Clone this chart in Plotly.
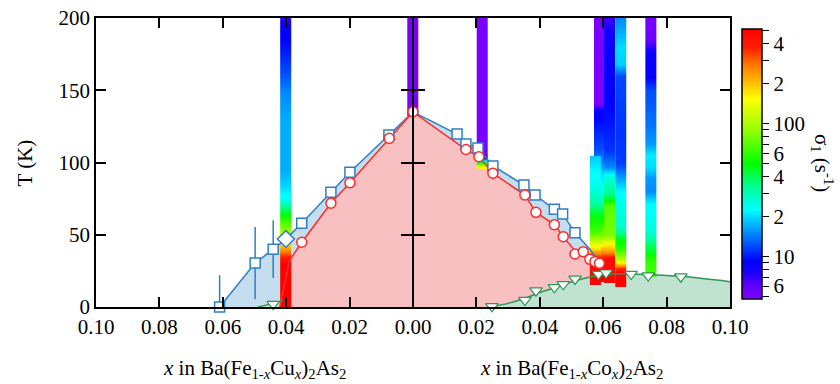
import numpy as np
import plotly.graph_objects as go

# ---------------- data (x < 0 : Cu side, x > 0 : Co side) ----------------
# structural transition T_S (blue squares)
cu_ts_x = [-0.0610, -0.0498, -0.0441, -0.0351, -0.0259, -0.0199, -0.0076]
cu_ts_T = [0.0, 30.4, 40.0, 57.9, 79.4, 93.2, 119.0]
cu_ts_err_plus = [22, 25, 20, 0, 0, 0, 0]
cu_ts_err_minus = [0, 25, 20, 0, 0, 0, 0]
co_ts_x = [0.0139, 0.0167, 0.0205, 0.0252, 0.0350, 0.0385, 0.0446, 0.0472, 0.0511]
co_ts_T = [119.7, 112.8, 110.0, 97.6, 84.4, 77.5, 67.6, 64.4, 51.4]
nmr_x = [-0.0401]
nmr_T = [47.0]
# T_S phase boundary
ts_line_x = [-0.0610, -0.0498, -0.0441, -0.0401, -0.0351, -0.0259, -0.0199, -0.0076, 0.0,
             0.0139, 0.0167, 0.0205, 0.0252, 0.0350, 0.0385, 0.0446, 0.0472, 0.0511, 0.0558, 0.0600]
ts_line_T = [0.0, 30.4, 40.0, 47.0, 57.9, 79.4, 93.2, 119.0, 135.0,
             119.7, 112.8, 110.0, 97.6, 84.4, 77.5, 67.6, 64.4, 51.4, 40.0, 28.0]

# Neel temperature T_N (red circles)
tn_x = [-0.0351, -0.0259, -0.0199, -0.0075, 0.0,
        0.0167, 0.0208, 0.0252, 0.0353, 0.0388, 0.0446, 0.0474, 0.0511, 0.0537, 0.0558, 0.0574, 0.0588]
tn_T = [44.8, 71.8, 86.0, 116.7, 135.2,
        109.0, 104.0, 92.6, 77.5, 65.5, 57.0, 48.7, 36.7, 38.3, 33.0, 31.4, 30.2]
tn_line_x = [-0.0420, -0.0390, -0.0351, -0.0259, -0.0199, -0.0075, 0.0,
             0.0167, 0.0208, 0.0252, 0.0353, 0.0388, 0.0446, 0.0474, 0.0511, 0.0558, 0.0588, 0.0600]
tn_line_T = [0.0, 32.0, 44.8, 71.8, 86.0, 116.7, 135.0,
             109.0, 104.0, 92.6, 77.5, 65.5, 57.0, 48.7, 39.0, 33.0, 30.2, 27.0]

# superconducting T_c (green triangles)
cu_tc_x = [-0.0441]
cu_tc_T = [2.0]
cu_tc_line_x = [-0.0490, -0.0441, -0.0410]
cu_tc_line_T = [0.0, 2.5, 4.5]
co_tc_x = [0.0249, 0.0353, 0.0388, 0.0446, 0.0474, 0.0511, 0.0585, 0.0609, 0.0688, 0.0742, 0.0845]
co_tc_T = [0.5, 4.8, 11.3, 13.6, 15.7, 19.4, 22.8, 23.7, 22.8, 21.7, 21.0]
co_tc_line_x = [0.0245, 0.0300, 0.0353, 0.0400, 0.0446, 0.0511, 0.0585, 0.0650, 0.0750, 0.0845, 0.1000]
co_tc_line_T = [0.0, 2.5, 6.0, 10.0, 13.3, 18.0, 22.0, 23.0, 22.3, 21.2, 17.5]

# 1/T1 strips: composition, temperatures (ascending) and relaxation rates (s^-1)
strips = [
    dict(x=-0.0401,
         T=[0, 30, 33, 38, 44, 49, 55, 62, 69, 75, 80, 86, 95, 130, 148, 160, 178, 195, 203],
         r=[520, 520, 430, 280, 170, 125, 80, 55, 35, 24, 21, 19, 17, 17, 15, 12.5, 10, 8.5, 6.5]),
    dict(x=0.0,
         T=[133, 134, 203],
         r=[5, 5, 5]),
    dict(x=0.0219,
         T=[96, 97, 100, 103, 105, 108, 203],
         r=[160, 150, 60, 9, 6.5, 5, 5]),
    dict(x=0.0589,
         T=[18, 19, 32, 37, 42, 48, 58, 70, 80, 92, 100, 110, 125, 136, 141, 203],
         r=[520, 520, 500, 300, 170, 90, 55, 35, 24, 20, 15, 12, 10, 8.5, 5, 5]),
    dict(x=0.0576,
         T=[16, 17, 33, 36, 40, 45, 52, 62, 74, 85, 95, 103, 104],
         r=[520, 520, 480, 300, 180, 120, 65, 50, 30, 24, 22, 19, 19]),
    dict(x=0.0621,
         T=[17, 18, 34, 38, 44, 50, 70, 78, 90, 97, 109, 136, 175, 192, 203],
         r=[520, 520, 450, 250, 150, 80, 70, 35, 26, 15, 11, 9.5, 8.5, 8, 6.5]),
    dict(x=0.0656,
         T=[14, 15, 24, 27, 30, 33, 40, 48, 55, 72, 80, 90, 100, 120, 160, 168, 180, 195, 203],
         r=[520, 520, 500, 350, 200, 100, 60, 45, 28, 24, 22, 16, 11.5, 11, 12, 19, 20, 16, 14]),
    dict(x=0.0751,
         T=[21, 22, 32, 42, 51, 60, 72, 80, 90, 97, 105, 113, 125, 150, 160, 176, 186, 203],
         r=[65, 65, 60, 40, 27, 24, 22, 15, 16, 20, 21, 16, 14, 12, 9, 8.5, 5.5, 5]),
]

x_ticks = [-0.10, -0.08, -0.06, -0.04, -0.02, 0.0, 0.02, 0.04, 0.06, 0.08, 0.10]
x_ticktext = ["0.10", "0.08", "0.06", "0.04", "0.02", "0.00", "0.02", "0.04", "0.06", "0.08", "0.10"]
y_ticks = [0, 50, 100, 150, 200]
cb_ticks = [5, 6, 7, 8, 9, 10, 20, 30, 40, 50, 60, 70, 80, 90, 100, 200, 300, 400, 500]
cb_labels = {6: "6", 10: "10", 20: "2", 40: "4", 60: "6", 100: "100", 200: "2", 400: "4"}

# ---------------- styles ----------------
SERIF = "Liberation Serif, Times New Roman, DejaVu Serif, serif"
BLUE = "#2f7fc6"
RED = "#ff2a2a"
GREEN = "#2e9656"
STRIP_W = 0.0036
ZMIN, ZMAX = np.log10(4.8), np.log10(518)
cscale = [
    [0.00, "#7f00ff"], [0.05, "#6000ff"], [0.10, "#1800ff"], [0.14, "#0000ff"],
    [0.20, "#0050ff"], [0.26, "#00a0ff"], [0.33, "#00ffff"], [0.42, "#00ff90"],
    [0.50, "#00ff00"], [0.62, "#90ff00"], [0.74, "#ffff00"], [0.80, "#ffc000"],
    [0.86, "#ff8000"], [0.93, "#ff2000"], [1.00, "#ff0000"],
]

fig = go.Figure()

# ---- fills (main subplot, below strips) ----
fig.add_trace(go.Scatter(x=ts_line_x, y=ts_line_T, mode="lines", line=dict(width=0),
                         fill="tozeroy", fillcolor="#c4def0", hoverinfo="skip", showlegend=False))
fig.add_trace(go.Scatter(x=tn_line_x, y=tn_line_T, mode="lines", line=dict(width=0),
                         fill="tozeroy", fillcolor="#f8c0c0", hoverinfo="skip", showlegend=False))
fig.add_trace(go.Scatter(x=cu_tc_line_x, y=cu_tc_line_T, mode="lines", line=dict(width=0, shape="spline"),
                         fill="tozeroy", fillcolor="#bfe3d0", hoverinfo="skip", showlegend=False))
fig.add_trace(go.Scatter(x=co_tc_line_x, y=co_tc_line_T, mode="lines", line=dict(width=0, shape="spline"),
                         fill="tozeroy", fillcolor="#bfe3d0", hoverinfo="skip", showlegend=False))

# ---- 1/T1 strips (overlay subplot) ----
cb = dict(
    x=1.019, xanchor="left", xpad=0, y=0.495, yanchor="middle", ypad=0,
    len=270, lenmode="pixels", thickness=20, thicknessmode="pixels",
    outlinewidth=1.5, outlinecolor="black",
    tickmode="array", tickvals=[np.log10(v) for v in cb_ticks],
    ticktext=[cb_labels.get(v, "") for v in cb_ticks],
    ticks="outside", ticklen=7, tickwidth=1.2, tickcolor="black",
    tickfont=dict(family=SERIF, size=21, color="black"),
)
for i, s in enumerate(strips):
    logs = [np.log10(v) for v in s["r"]]
    fig.add_trace(go.Heatmap(
        x=[s["x"] - STRIP_W / 4, s["x"] + STRIP_W / 4], y=s["T"],
        z=[[v, v] for v in logs], zmin=ZMIN, zmax=ZMAX, colorscale=cscale,
        zsmooth="best", showscale=(i == 0), colorbar=cb, hoverinfo="skip",
        xaxis="x2", yaxis="y2"))

# ---- lines and symbols (overlay subplot, above strips) ----
line_kw = dict(xaxis="x2", yaxis="y2", mode="lines", hoverinfo="skip", showlegend=False)
fig.add_trace(go.Scatter(x=ts_line_x, y=ts_line_T, line=dict(color=BLUE, width=1.5), **line_kw))
fig.add_trace(go.Scatter(x=tn_line_x, y=tn_line_T, line=dict(color=RED, width=1.5), **line_kw))
fig.add_trace(go.Scatter(x=cu_tc_line_x, y=cu_tc_line_T, line=dict(color=GREEN, width=1.5, shape="spline"), **line_kw))
fig.add_trace(go.Scatter(x=co_tc_line_x, y=co_tc_line_T, line=dict(color=GREEN, width=1.5, shape="spline"), **line_kw))

mk_kw = dict(xaxis="x2", yaxis="y2", mode="markers", hoverinfo="skip", showlegend=False, cliponaxis=False)
fig.add_trace(go.Scatter(x=cu_ts_x, y=cu_ts_T,
                         error_y=dict(type="data", array=cu_ts_err_plus, arrayminus=cu_ts_err_minus,
                                      symmetric=False, color=BLUE, thickness=1.5, width=0),
                         marker=dict(symbol="square", size=10, color="white", line=dict(color=BLUE, width=1.5)),
                         **mk_kw))
fig.add_trace(go.Scatter(x=co_ts_x, y=co_ts_T,
                         marker=dict(symbol="square", size=10, color="white", line=dict(color=BLUE, width=1.5)),
                         **mk_kw))
fig.add_trace(go.Scatter(x=nmr_x, y=nmr_T,
                         marker=dict(symbol="diamond", size=13, color="white", line=dict(color=BLUE, width=1.5)),
                         **mk_kw))
fig.add_trace(go.Scatter(x=tn_x, y=tn_T,
                         marker=dict(symbol="circle", size=10, color="white", line=dict(color=RED, width=1.5)),
                         **mk_kw))
fig.add_trace(go.Scatter(x=cu_tc_x + co_tc_x, y=cu_tc_T + co_tc_T,
                         marker=dict(symbol="triangle-down", size=11, color="white", line=dict(color=GREEN, width=1.2)),
                         **mk_kw))

# dummy traces so the centre (x = 0) axes are drawn
fig.add_trace(go.Scatter(x=[None], y=[None], yaxis="y3", showlegend=False, hoverinfo="skip"))
fig.add_trace(go.Scatter(x=[None], y=[None], yaxis="y4", showlegend=False, hoverinfo="skip"))

axis_font = dict(family=SERIF, size=21, color="black")
fig.update_layout(
    width=840, height=384,
    margin=dict(l=96, r=110, t=18, b=77, autoexpand=False),
    paper_bgcolor="white", plot_bgcolor="white",
    showlegend=False,
    xaxis=dict(range=[-0.10, 0.10], tickmode="array", tickvals=x_ticks, ticktext=x_ticktext,
               ticks="inside", ticklen=10, tickwidth=1.5, tickcolor="black",
               showline=True, linecolor="black", linewidth=1.5, mirror="ticks",
               showgrid=False, zeroline=False, tickfont=axis_font, automargin=False),
    yaxis=dict(range=[0, 200], tickmode="array", tickvals=y_ticks,
               ticks="inside", ticklen=10, tickwidth=1.5, tickcolor="black",
               showline=True, linecolor="black", linewidth=1.5, mirror="ticks",
               showgrid=False, zeroline=False, tickfont=axis_font, automargin=False),
    xaxis2=dict(overlaying="x", anchor="y2", range=[-0.10, 0.10], visible=False),
    yaxis2=dict(overlaying="y", anchor="x2", range=[0, 200], visible=False),
    yaxis3=dict(overlaying="y", anchor="free", position=0.5, side="left", range=[0, 200],
                showline=True, linecolor="black", linewidth=1.5,
                tickmode="array", tickvals=[50, 100, 150], ticks="outside", ticklen=11,
                tickwidth=1.5, tickcolor="black", showticklabels=False,
                showgrid=False, zeroline=False),
    yaxis4=dict(overlaying="y", anchor="free", position=0.5, side="left", range=[0, 200],
                showline=False, tickmode="array", tickvals=[50, 100, 150], ticks="inside", ticklen=11,
                tickwidth=1.5, tickcolor="black", showticklabels=False,
                showgrid=False, zeroline=False),
    annotations=[
        dict(text="T (K)", xref="paper", yref="paper", x=-0.112, y=0.5, textangle=-90,
             showarrow=False, font=axis_font, xanchor="center", yanchor="middle"),
        dict(text="σ<sub>1</sub> (s<sup>-1</sup>)", xref="paper", yref="paper", x=1.146, y=0.50,
             textangle=90, showarrow=False, font=axis_font, xanchor="center", yanchor="middle"),
        dict(text="<i>x</i> in Ba(Fe<sub>1-<i>x</i></sub>Cu<sub><i>x</i></sub>)<sub>2</sub>As<sub>2</sub>",
             xref="x", yref="paper", x=-0.05, y=-0.2145, showarrow=False, font=axis_font,
             xanchor="center", yanchor="middle"),
        dict(text="<i>x</i> in Ba(Fe<sub>1-<i>x</i></sub>Co<sub><i>x</i></sub>)<sub>2</sub>As<sub>2</sub>",
             xref="x", yref="paper", x=0.05, y=-0.2145, showarrow=False, font=axis_font,
             xanchor="center", yanchor="middle"),
    ],
)

fig.write_html("out.html")
